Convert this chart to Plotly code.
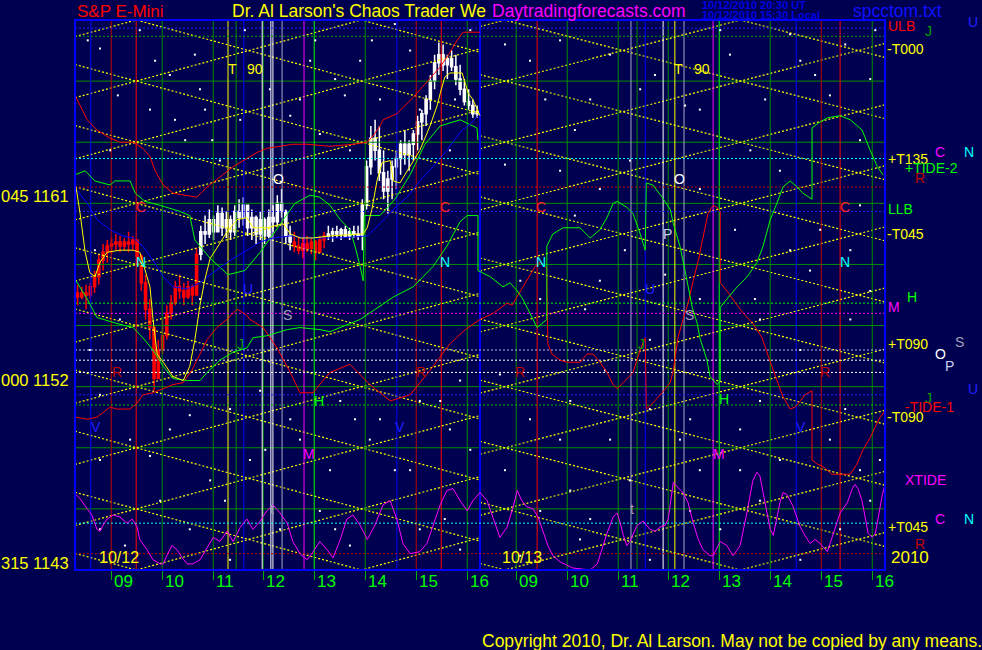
import plotly.graph_objects as go

BG = "#000050"
FONT = "Liberation Sans, Arial, sans-serif"

# ---------------- scales ----------------
# x = session hours since 08:18 on 10/12 (second session starts at 7.94)
S_RANGE = [0, 15.88]
P_RANGE = [1143, 1170]

hour_ticks = [0.71, 1.71, 2.71, 3.69, 4.69, 5.69, 6.69, 7.69,
              8.65, 9.65, 10.65, 11.63, 12.63, 13.63, 14.63, 15.63]
hour_labels = ["09", "10", "11", "12", "13", "14", "15", "16"] * 2
grid_prices = [1146, 1149, 1152, 1155, 1158, 1161, 1164, 1167]
price_labels = [(1161, "045 1161"), (1152, "000 1152"), (1143, "315 1143")]

# ---------------- 5-minute price bars (10/12) ----------------
bar_start = 0.05
bar_minutes = 5
bar_high = [1157.0, 1156.9, 1157.0, 1157.1, 1157.7, 1158.5, 1159.0, 1159.2, 1159.3, 1159.5,
            1159.4, 1159.3, 1159.6, 1159.4, 1159.2, 1158.5, 1157.5, 1156.3, 1154.8, 1154.3,
            1155.3, 1156.0, 1156.5, 1157.2, 1157.5, 1157.1, 1157.2, 1157.0, 1158.8, 1159.9,
            1160.4, 1160.7, 1160.4, 1160.9, 1160.8, 1160.6, 1160.4, 1160.9, 1161.2, 1161.3,
            1160.9, 1160.7, 1160.4, 1160.6, 1160.3, 1160.7, 1160.9, 1161.4, 1161.7, 1160.7,
            1159.9, 1159.6, 1159.4, 1159.3, 1159.4, 1159.3, 1159.2, 1159.4, 1159.6, 1159.9,
            1159.8, 1159.9, 1159.8, 1159.9, 1159.8, 1159.9, 1159.9, 1161.2, 1163.1, 1164.8,
            1165.1, 1164.8, 1163.6, 1162.6, 1163.1, 1163.6, 1164.1, 1164.6, 1164.1, 1164.6,
            1165.3, 1165.6, 1166.3, 1167.3, 1168.3, 1168.9, 1168.8, 1168.3, 1168.5, 1168.3,
            1167.8, 1167.1, 1166.6, 1166.1, 1165.8]
bar_low = [1156.0, 1156.3, 1155.8, 1156.3, 1156.6, 1157.0, 1157.7, 1158.1, 1158.5, 1158.7,
           1158.6, 1158.7, 1158.6, 1158.7, 1158.0, 1156.7, 1155.3, 1154.3, 1151.8, 1152.6,
           1153.6, 1154.3, 1155.3, 1156.0, 1156.3, 1156.0, 1156.3, 1156.0, 1156.7, 1158.2,
           1159.0, 1159.3, 1159.2, 1159.7, 1159.4, 1159.3, 1159.2, 1159.4, 1159.8, 1159.9,
           1159.4, 1159.2, 1159.0, 1159.2, 1159.0, 1159.3, 1159.6, 1159.9, 1160.3, 1159.0,
           1158.7, 1158.6, 1158.5, 1158.3, 1158.6, 1158.5, 1158.2, 1158.6, 1158.8, 1159.2,
           1159.1, 1159.3, 1159.2, 1159.3, 1159.2, 1159.3, 1159.2, 1158.7, 1160.7, 1162.4,
           1163.1, 1162.1, 1161.2, 1160.5, 1161.2, 1161.7, 1162.4, 1162.9, 1162.6, 1163.1,
           1163.6, 1164.1, 1164.8, 1165.6, 1166.6, 1167.3, 1167.5, 1167.1, 1167.5, 1166.8,
           1166.3, 1165.8, 1165.6, 1165.2, 1165.2]
bar_close = [1156.4, 1156.6, 1156.5, 1156.9, 1157.4, 1158.2, 1158.6, 1158.9, 1159.0, 1159.1,
             1158.9, 1159.1, 1159.0, 1159.2, 1158.4, 1157.1, 1155.8, 1154.9, 1152.4, 1153.8,
             1154.5, 1155.6, 1156.1, 1156.9, 1156.7, 1156.4, 1156.9, 1156.5, 1158.5, 1159.6,
             1159.5, 1160.2, 1159.6, 1160.5, 1159.8, 1160.2, 1159.6, 1160.6, 1160.3, 1160.9,
             1159.8, 1160.3, 1159.5, 1160.2, 1159.4, 1160.3, 1160.1, 1161.0, 1160.6, 1159.4,
             1159.1, 1158.9, 1158.7, 1159.0, 1158.8, 1159.1, 1158.6, 1159.2, 1159.4, 1159.5,
             1159.6, 1159.5, 1159.7, 1159.4, 1159.6, 1159.5, 1159.4, 1160.9, 1162.8, 1164.2,
             1163.6, 1162.5, 1161.6, 1162.2, 1162.8, 1163.2, 1163.9, 1163.4, 1163.9, 1164.4,
             1165.0, 1165.4, 1166.1, 1167.0, 1167.9, 1168.3, 1167.8, 1168.1, 1167.7, 1167.1,
             1166.6, 1166.0, 1165.8, 1165.4, 1165.5]
first_open = 1156.6
red_bar_ranges = [(0, 28), (51, 58)]

# ---------------- indicator curves ----------------
ma_s = [0.02, 0.10, 0.20, 0.29, 0.39, 0.49, 0.63, 0.88, 1.14, 1.27, 1.33, 1.47, 1.53, 1.61, 1.73, 1.92,
        2.12, 2.25, 2.35, 2.45, 2.55, 2.65, 2.78, 2.98, 3.18, 3.37, 3.49, 3.76, 4.08, 4.22, 4.41, 4.67,
        5.00, 5.65, 5.73, 5.82, 5.92, 6.02, 6.18, 6.24, 6.37, 6.51, 6.63, 6.76, 6.96, 7.10, 7.16, 7.25,
        7.35, 7.49, 7.59, 7.65, 7.71, 7.80, 7.88, 7.94]
ma_p = [1161.8, 1160.5, 1158.6, 1157.6, 1157.4, 1158.1, 1158.6, 1158.7, 1158.7, 1158.6, 1158.1, 1156.9,
        1155.3, 1153.6, 1153.2, 1152.5, 1152.3, 1153.0, 1154.3, 1156.0, 1157.3, 1158.3, 1158.8, 1159.6,
        1160.2, 1160.3, 1159.8, 1159.8, 1160.0, 1159.5, 1159.3, 1159.3, 1159.4, 1159.5, 1159.8, 1160.7,
        1162.1, 1163.0, 1163.1, 1162.1, 1162.0, 1162.6, 1163.1, 1163.6, 1164.8, 1165.8, 1166.4, 1167.2,
        1167.4, 1167.4, 1167.4, 1166.9, 1166.4, 1166.1, 1165.6, 1165.3]

blue_s = [0.02, 0.24, 0.43, 0.69, 0.94, 1.14, 1.33, 1.53, 1.73, 1.92, 2.20, 2.45, 2.71, 3.04, 3.37,
          3.63, 3.88, 4.22, 4.55, 5.20, 5.73, 5.98, 6.24, 6.51, 6.76, 7.02, 7.29, 7.55, 7.75, 7.90]
blue_p = [1161.7, 1161.0, 1160.2, 1159.7, 1159.4, 1159.3, 1158.9, 1158.2, 1157.4, 1156.9, 1156.8,
          1157.1, 1157.6, 1158.2, 1158.7, 1159.1, 1159.3, 1159.4, 1159.3, 1159.3, 1159.4, 1160.0,
          1160.7, 1161.3, 1162.1, 1162.8, 1163.6, 1164.5, 1164.9, 1165.3]

ulb_s = [0.0, 0.10, 0.24, 0.43, 0.69, 0.88, 1.14, 1.33, 1.47, 1.57, 1.73, 1.92, 2.20, 2.39, 2.59, 2.84,
         3.10, 3.37, 3.57, 3.76, 4.02, 4.27, 4.55, 5.00, 5.45, 5.73, 5.84, 5.98, 6.04, 6.31, 6.63, 6.96,
         7.16, 7.35, 7.49, 7.61, 7.75, 7.94]
ulb_p = [1166.3, 1165.8, 1165.1, 1164.6, 1164.2, 1164.0, 1164.0, 1163.7, 1163.3, 1162.6, 1161.9,
         1161.5, 1161.4, 1161.3, 1161.8, 1162.3, 1162.8, 1163.2, 1163.5, 1163.7, 1163.8, 1163.9,
         1163.9, 1163.8, 1163.9, 1164.0, 1164.3, 1164.8, 1165.1, 1165.4, 1166.2, 1167.1, 1167.7,
         1168.4, 1169.0, 1169.4, 1169.4, 1169.4]

green_up_s = [0.0, 0.20, 0.39, 0.69, 0.78, 1.08, 1.18, 1.37, 1.67, 2.06, 2.25, 2.35, 2.65, 3.00, 3.33,
              3.63, 3.92, 4.12, 4.31, 4.61, 4.80, 5.00, 5.20, 5.39, 5.49, 5.59, 5.65, 5.67, 5.98, 6.27,
              6.57, 6.86, 7.16, 7.55, 7.88, 7.90]
green_up_p = [1162.4, 1162.6, 1162.1, 1161.9, 1162.1, 1162.1, 1161.5, 1161.1, 1160.9, 1160.6, 1160.4,
              1159.2, 1158.3, 1157.5, 1157.7, 1158.6, 1159.6, 1160.3, 1161.0, 1161.4, 1161.3, 1160.9,
              1160.2, 1159.7, 1158.9, 1157.9, 1157.2, 1160.4, 1160.4, 1161.2, 1162.4, 1163.9, 1164.8,
              1165.1, 1164.7, 1164.1]

tide2_s = [0.02, 0.24, 0.43, 0.82, 1.14, 1.33, 1.53, 1.73, 1.92, 2.20, 2.45, 2.59, 2.84, 3.10, 3.37,
           3.49, 3.76, 4.16, 4.41, 4.80, 5.00, 5.59, 6.24, 6.63, 7.02, 7.29, 7.55, 7.69, 7.90,
           7.90, 8.14, 8.39, 8.53, 8.67, 8.78, 8.92, 9.06, 9.25, 9.25, 9.37, 9.57, 9.90, 10.10, 10.29,
           10.43, 10.55, 10.63, 10.82, 10.94, 11.08, 11.18, 11.20, 11.33, 11.51, 11.67, 11.73, 11.86,
           11.96, 12.02, 12.10, 12.20, 12.25, 12.39, 12.45, 12.59, 12.65, 12.65, 12.78, 12.98, 13.18,
           13.37, 13.49, 13.63, 13.76, 13.88, 14.02, 14.16, 14.27, 14.45, 14.45, 14.55, 14.75, 15.00,
           15.20, 15.43, 15.59, 15.73, 15.84]
tide2_p = [1157.2, 1156.3, 1155.4, 1155.1, 1154.9, 1154.4, 1153.8, 1153.0, 1152.4, 1152.3, 1152.3,
           1152.7, 1153.3, 1153.7, 1153.9, 1154.4, 1154.5, 1154.8, 1154.9, 1154.8, 1154.7, 1155.3,
           1156.4, 1156.9, 1157.9, 1158.9, 1160.1, 1160.4, 1160.4,
           1157.7, 1157.4, 1156.9, 1157.1, 1156.7, 1156.3, 1155.6, 1154.9, 1155.3, 1158.9, 1159.5,
           1159.8, 1159.8, 1159.3, 1159.7, 1160.3, 1161.0, 1161.1, 1160.8, 1160.5, 1159.5, 1158.7,
           1162.0, 1161.9, 1161.3, 1160.7, 1160.0, 1158.9, 1157.7, 1156.9, 1155.9, 1155.1, 1154.4,
           1153.3, 1152.5, 1152.1, 1152.3, 1155.9, 1156.3, 1156.9, 1157.4, 1158.1, 1158.9, 1160.2,
           1161.0, 1161.8, 1162.1, 1161.8, 1161.5, 1161.2, 1164.7, 1164.9, 1165.2, 1165.3, 1165.1,
           1164.6, 1163.6, 1162.8, 1162.4]

tide1_s = [0.02, 0.24, 0.43, 0.69, 0.82, 1.08, 1.22, 1.33, 1.53, 1.73, 1.92, 2.12, 2.29, 2.45, 2.59,
           2.78, 2.98, 3.18, 3.37, 3.43, 3.69, 3.96, 4.22, 4.41, 4.67, 4.86, 5.00, 5.39, 5.78, 6.18,
           6.57, 6.96, 7.35, 7.65, 7.94, 8.20, 8.47, 8.57, 8.78, 9.02, 9.12, 9.25, 9.27, 9.35, 9.51,
           9.65, 9.90, 10.04, 10.16, 10.29, 10.43, 10.55, 10.63, 10.75, 10.94, 11.08, 11.18, 11.20,
           11.33, 11.51, 11.67, 11.73, 11.82, 11.92, 12.02, 12.12, 12.22, 12.31, 12.41, 12.51, 12.59,
           12.65, 12.65, 12.78, 12.90, 13.10, 13.29, 13.47, 13.59, 13.69, 13.76, 13.88, 14.02, 14.12,
           14.22, 14.31, 14.45, 14.45, 14.55, 14.65, 14.84, 15.20, 15.33, 15.45, 15.59, 15.69, 15.78,
           15.88]
tide1_p = [1150.5, 1150.4, 1150.5, 1151.0, 1150.9, 1150.9, 1151.2, 1151.6, 1151.7, 1151.9, 1152.1,
           1152.2, 1152.8, 1153.6, 1154.3, 1154.9, 1155.3, 1155.8, 1155.5, 1155.3, 1154.9, 1153.9,
           1152.7, 1151.7, 1151.7, 1152.3, 1152.7, 1153.1, 1152.1, 1151.3, 1151.6, 1152.8, 1154.1,
           1154.8, 1155.3, 1155.6, 1156.1, 1156.0, 1156.9, 1157.9, 1158.1, 1157.8, 1154.1, 1153.6,
           1153.3, 1153.2, 1153.2, 1153.6, 1153.6, 1153.2, 1152.7, 1152.1, 1151.9, 1152.2, 1152.7,
           1153.8, 1154.4, 1150.9, 1151.2, 1151.7, 1152.2, 1152.8, 1154.4, 1155.3, 1156.1, 1157.2,
           1158.2, 1159.3, 1160.5, 1160.9, 1160.8, 1160.6, 1157.1, 1156.7, 1156.3, 1155.6, 1155.1,
           1154.4, 1153.5, 1152.8, 1152.3, 1151.5, 1150.9, 1151.0, 1151.3, 1151.6, 1151.8, 1148.4,
           1148.2, 1148.1, 1147.7, 1147.7, 1148.2, 1148.9, 1149.5, 1150.0, 1150.5, 1150.8]

xtide_s = [0.02, 0.10, 0.24, 0.33, 0.43, 0.49, 0.55, 0.63, 0.75, 0.88, 1.02, 1.12, 1.22, 1.27, 1.41,
           1.53, 1.67, 1.73, 1.80, 1.90, 2.00, 2.10, 2.20, 2.31, 2.45, 2.59, 2.71, 2.84, 2.98, 3.10,
           3.24, 3.37, 3.49, 3.63, 3.76, 3.88, 4.02, 4.16, 4.27, 4.41, 4.55, 4.67, 4.80, 4.94, 5.06,
           5.20, 5.33, 5.45, 5.59, 5.73, 5.88, 6.04, 6.18, 6.31, 6.43, 6.57, 6.76, 6.90, 7.02, 7.16,
           7.29, 7.41, 7.55, 7.69, 7.80, 7.94, 8.08, 8.20, 8.33, 8.47, 8.59, 8.67, 8.76, 8.86, 8.98,
           9.08, 9.18, 9.27, 9.37, 9.51, 9.76, 10.10, 10.24, 10.35, 10.43, 10.55, 10.63, 10.69, 10.75,
           10.82, 10.88, 11.02, 11.14, 11.27, 11.37, 11.47, 11.57, 11.63, 11.71, 11.73, 11.80, 11.92,
           12.02, 12.12, 12.22, 12.31, 12.45, 12.51, 12.65, 12.78, 12.90, 13.04, 13.18, 13.29, 13.37,
           13.43, 13.49, 13.57, 13.63, 13.69, 13.76, 13.82, 13.88, 13.96, 14.08, 14.22, 14.31, 14.41,
           14.51, 14.61, 14.75, 14.86, 15.00, 15.14, 15.24, 15.29, 15.35, 15.43, 15.49, 15.55, 15.63,
           15.69, 15.75, 15.82, 15.88]
xtide_p = [1146.7, 1146.5, 1146.0, 1145.7, 1145.0, 1144.9, 1145.2, 1145.5, 1145.7, 1145.6, 1145.3,
           1145.5, 1145.1, 1144.5, 1144.0, 1143.5, 1143.3, 1143.3, 1143.7, 1144.2, 1144.0, 1143.6,
           1143.3, 1143.3, 1143.5, 1144.1, 1144.6, 1144.4, 1144.9, 1144.4, 1145.1, 1145.5, 1145.0,
           1145.4, 1145.9, 1146.2, 1145.8, 1145.3, 1144.4, 1143.8, 1143.5, 1143.9, 1144.4, 1144.0,
           1143.6, 1144.5, 1145.5, 1145.7, 1145.2, 1144.5, 1145.2, 1146.2, 1146.4, 1145.5, 1144.3,
           1143.8, 1143.9, 1144.3, 1145.2, 1146.2, 1146.9, 1147.0, 1146.4, 1145.9, 1146.4, 1146.8,
           1146.4, 1145.5, 1144.6, 1145.1, 1146.1, 1146.9, 1146.4, 1146.1, 1146.0, 1145.6, 1144.8,
           1144.2, 1143.7, 1143.4, 1143.1, 1143.0, 1143.3, 1144.2, 1144.8, 1145.6, 1145.8, 1145.3,
           1144.7, 1144.2, 1144.4, 1145.2, 1145.4, 1145.0, 1144.9, 1145.1, 1145.2, 1145.5, 1147.1,
           1147.3, 1147.1, 1146.8, 1146.3, 1145.3, 1144.5, 1144.0, 1143.7, 1143.7, 1144.4, 1144.2,
           1143.7, 1144.2, 1145.9, 1147.4, 1147.8, 1147.6, 1146.8, 1145.8, 1145.0, 1144.7, 1145.5,
           1146.3, 1146.8, 1146.7, 1146.1, 1145.1, 1144.7, 1144.3, 1144.5, 1144.3, 1143.9, 1144.7,
           1145.8, 1146.3, 1147.0, 1147.2, 1147.0, 1146.4, 1145.6, 1144.8, 1144.6, 1144.8, 1145.6,
           1146.6, 1147.2]

# ---------------- yellow lattice (parallel time/price lines crossing on the grid) ----------------
# (session start, session end, s where the lines cross the grid levels, slope in points per hour)
lattice_sets = [(0.0, 7.94, 1.20, 0.68), (7.94, 15.88, 8.43, 0.65)]
lattice_levels = [1137, 1140, 1143, 1146, 1149, 1152, 1155, 1158, 1161, 1164, 1167, 1170, 1173, 1176]

# ---------------- white dots of the original ----------------
dots_s = [0.49, 1.27, 1.86, 2.35, 4.41, 4.80, 1.96, 2.69, 2.84, 5.29, 5.59, 6.27, 8.92, 9.51, 10.10,
          11.08, 12.25, 12.65, 14.22, 14.80, 15.39, 15.59, 9.51, 10.29, 10.88, 12.25, 13.24, 13.82,
          14.61, 15.20, 9.12, 10.29, 11.27, 12.25, 13.43, 14.22, 15.20, 8.92, 9.71, 10.49, 11.27,
          12.06, 13.04, 13.82, 14.80, 15.39, 9.12, 10.10, 10.88, 12.25, 13.43, 15.00, 0.49, 1.08,
          1.86, 2.65, 3.43, 4.22, 5.00, 5.78, 6.57, 7.35, 0.29, 0.88, 2.45, 3.04, 3.63, 4.41, 5.20,
          5.98, 6.76, 7.55, 0.69, 1.47, 2.45, 3.24, 3.82, 4.61, 5.39, 5.98, 6.57, 7.35, 7.75, 0.49,
          1.67, 3.04, 4.02, 5.39, 6.76, 7.55, 8.73, 9.90, 11.27, 12.65, 14.22, 15.59,
          0.25, 0.84, 1.57, 2.16, 2.55, 3.33, 4.22, 4.71, 5.10, 5.82, 6.76, 7.45, 8.43, 9.22, 9.80,
          10.49, 11.37, 11.96, 12.84, 13.53, 14.02, 14.51, 15.10, 15.69, 8.43, 9.80, 10.78, 12.94,
          14.02, 15.39, 8.73, 10.00, 11.57, 13.33, 14.41, 15.59, 8.33, 9.51, 10.39, 11.86, 13.43,
          15.10, 8.43, 9.71, 12.06, 13.04, 15.78, 0.39, 0.49, 1.47, 2.25, 2.94, 3.73, 4.80, 5.49,
          6.27, 7.16, 7.75, 0.98, 2.25, 5.10, 7.25]
dots_p = [1168.6, 1169.5, 1167.3, 1168.3, 1166.1, 1164.4, 1165.1, 1164.1, 1163.1, 1166.3, 1168.0,
          1169.8, 1168.0, 1169.0, 1166.1, 1166.6, 1165.6, 1169.5, 1168.0, 1166.3, 1164.1, 1167.1,
          1162.6, 1161.7, 1163.1, 1161.7, 1163.6, 1162.6, 1159.7, 1158.7, 1156.3, 1157.2, 1154.3,
          1156.3, 1155.3, 1153.8, 1155.3, 1150.4, 1151.3, 1149.4, 1150.9, 1150.4, 1149.9, 1148.4,
          1149.4, 1147.9, 1145.9, 1145.5, 1147.4, 1147.9, 1146.4, 1145.0, 1148.4, 1149.4, 1149.9,
          1147.4, 1148.4, 1150.4, 1147.9, 1149.4, 1147.9, 1149.9, 1153.8, 1155.3, 1156.3, 1150.9,
          1151.8, 1149.4, 1151.3, 1150.4, 1151.3, 1152.3, 1163.6, 1165.6, 1166.6, 1165.1, 1166.6,
          1168.0, 1163.6, 1166.1, 1168.5, 1163.6, 1169.5, 1145.0, 1146.4, 1143.5, 1145.0, 1144.2,
          1145.0, 1144.0, 1143.7, 1144.5, 1143.5, 1145.0, 1143.5, 1146.4,
          1169.0, 1166.3, 1168.0, 1164.1, 1165.6, 1169.5, 1165.3, 1169.0, 1167.1, 1169.0, 1165.6,
          1166.1, 1168.8, 1166.1, 1164.6, 1168.3, 1167.3, 1165.8, 1168.3, 1166.1, 1169.3, 1167.3,
          1168.8, 1169.5, 1162.9, 1160.4, 1158.7, 1159.7, 1158.7, 1160.9, 1157.2, 1155.8, 1157.5,
          1156.3, 1157.7, 1156.7, 1152.6, 1149.4, 1152.8, 1149.4, 1151.3, 1150.9, 1147.9, 1146.9,
          1145.9, 1147.9, 1148.4, 1158.7, 1151.6, 1148.6, 1150.6, 1146.4, 1148.9, 1145.9, 1150.4,
          1147.9, 1151.3, 1148.9, 1144.2, 1145.0, 1145.0, 1145.5]

# ---------------- time lines (vertical) ----------------
vlines = {
    "#0000ff": [0.31, 3.31, 6.31, 11.18, 14.14],
    "#c00000": [0.71, 6.69, 14.63],
    "#ff0000": [1.20, 7.18, 9.06, 15.00],
    "#008c00": [1.71, 2.71, 3.16, 3.69, 5.69, 7.69, 8.65, 9.65, 10.65, 11.02, 11.63, 13.63, 15.63],
    "#00ff00": [4.69, 12.63],
    "#ffff00": [3.00, 11.76],
    "#ffffff": [3.67, 3.84, 3.88, 11.53],
    "#a8a8c8": [4.06, 10.90, 11.94],
    "#ff00ff": [4.49, 12.51],
}
day_split = 7.94

# ---------------- price levels (horizontal dotted) ----------------
hlevels = [(1169.6, "#2020ff"), (1169.2, "#00a000"), (1163.2, "#00ffff"), (1161.8, "#c00000"),
           (1160.6, "#2020ff"), (1156.1, "#00ff00"), (1155.6, "#ff00ff"), (1153.8, "#b8b8e8"),
           (1153.3, "#ffffff"), (1152.7, "#ffffff"), (1151.6, "#2020ff"), (1151.1, "#00c000"),
           (1145.3, "#00ffff"), (1143.8, "#c00000")]

# ---------------- labels ----------------
inner_labels = [  # text, s, price, color
    ("T", 3.08, 1167.6, "#ffff00"), ("90", 3.53, 1167.6, "#ffff00"),
    ("T", 11.84, 1167.6, "#ffff00"), ("90", 12.29, 1167.6, "#ffff00"),
    ("O", 3.98, 1162.2, "#ffffff"), ("O", 11.86, 1162.2, "#ffffff"),
    ("C", 1.29, 1160.8, "#ff2020"), ("C", 7.25, 1160.8, "#ff2020"),
    ("C", 9.14, 1160.8, "#ff2020"), ("C", 15.10, 1160.8, "#ff2020"),
    ("N", 1.29, 1158.1, "#00ffff"), ("N", 7.25, 1158.1, "#00ffff"),
    ("N", 9.14, 1158.1, "#00ffff"), ("N", 15.10, 1158.1, "#00ffff"),
    ("U", 3.39, 1156.8, "#2020ff"), ("U", 11.27, 1156.8, "#2020ff"),
    ("S", 4.16, 1155.5, "#a0a0b8"), ("S", 12.04, 1155.5, "#a0a0b8"),
    ("P", 11.61, 1159.5, "#d0d0f0"),
    ("J", 3.24, 1154.1, "#00a000"), ("J", 11.10, 1154.1, "#00a000"),
    ("R", 0.82, 1152.7, "#c00000"), ("R", 6.78, 1152.7, "#c00000"),
    ("R", 8.73, 1152.7, "#c00000"), ("R", 14.71, 1152.7, "#c00000"),
    ("H", 4.78, 1151.3, "#00ff00"), ("H", 12.73, 1151.4, "#00ff00"),
    ("V", 0.41, 1150.0, "#2020ff"), ("V", 6.37, 1150.0, "#2020ff"), ("V", 14.24, 1150.0, "#2020ff"),
    ("M", 4.59, 1148.7, "#ff00ff"), ("M", 12.63, 1148.7, "#ff00ff"),
    ("t", 3.86, 1146.0, "#a0a0b8"), ("t", 10.92, 1146.0, "#a0a0b8"),
]
# right-hand legend: text, left edge (fraction of plot width), price (middle), color, size
side_labels = [
    ("ULB", 1.001, 1169.7, "#ff0000", 14), ("J", 1.047, 1169.45, "#00a000", 14),
    ("U", 1.100, 1169.9, "#2020ff", 14), ("-T000", 1.0, 1168.6, "#ffff00", 14),
    ("C", 1.059, 1163.5, "#ff00ff", 14), ("N", 1.095, 1163.5, "#00ffff", 14),
    ("+T135", 1.001, 1163.2, "#ffff00", 14), ("+TIDE-2", 1.022, 1162.75, "#00ff00", 14),
    ("R", 1.035, 1162.25, "#c00000", 14), ("LLB", 1.001, 1160.7, "#00ff00", 14),
    ("-T045", 1.0, 1159.5, "#ffff00", 14), ("H", 1.025, 1156.4, "#00ff00", 14),
    ("M", 1.001, 1155.9, "#ff00ff", 14), ("+T090", 1.001, 1154.1, "#ffff00", 14),
    ("S", 1.084, 1154.2, "#a0a0b8", 14), ("O", 1.059, 1153.6, "#ffffff", 14),
    ("P", 1.072, 1153.0, "#d0d0f0", 14), ("U", 1.100, 1151.9, "#2020ff", 14),
    ("J", 1.047, 1151.45, "#00a000", 14), ("-TIDE-1", 1.022, 1151.0, "#ff0000", 14),
    ("-T090", 1.0, 1150.5, "#ffff00", 14), ("XTIDE", 1.022, 1147.4, "#ff00ff", 14),
    ("C", 1.059, 1145.5, "#ff00ff", 14), ("N", 1.095, 1145.5, "#00ffff", 14),
    ("+T045", 1.001, 1145.1, "#ffff00", 14), ("R", 1.035, 1144.3, "#c00000", 14),
    ("2010", 1.005, 1143.6, "#ffff00", 17),
]
date_labels = [("10/12", 0.43), ("10/13", 8.33)]

fig = go.Figure()

# horizontal grid
gx, gy = [], []
for p in grid_prices:
    gx += [S_RANGE[0], S_RANGE[1], None]
    gy += [p, p, None]
fig.add_trace(go.Scatter(x=gx, y=gy, mode="lines", line=dict(color="#009000", width=1), hoverinfo="skip"))

# yellow lattice
lx, ly = [], []
for s0, s1, a, m in lattice_sets:
    for g in lattice_levels:
        for sign in (1, -1):
            lx += [s0, s1, None]
            ly += [g + sign * m * (s0 - a), g + sign * m * (s1 - a), None]
fig.add_trace(go.Scatter(x=lx, y=ly, mode="lines", line=dict(color="#ffff00", width=1.2, dash="2px,2px"),
                         hoverinfo="skip"))

# vertical time lines
for col, xs in vlines.items():
    vx, vy = [], []
    for s in xs:
        vx += [s, s, None]
        vy += [P_RANGE[0], P_RANGE[1], None]
    fig.add_trace(go.Scatter(x=vx, y=vy, mode="lines", line=dict(color=col, width=1), hoverinfo="skip"))
fig.add_trace(go.Scatter(x=[day_split, day_split], y=P_RANGE, mode="lines",
                         line=dict(color="#0000ff", width=2), hoverinfo="skip"))

# horizontal dotted levels
for p, col in hlevels:
    fig.add_trace(go.Scatter(x=S_RANGE, y=[p, p], mode="lines",
                             line=dict(color=col, width=1, dash="2px,2px"), hoverinfo="skip"))

# white dots
fig.add_trace(go.Scatter(x=dots_s, y=dots_p, mode="markers",
                         marker=dict(color="#ffffff", size=2, symbol="square"), hoverinfo="skip"))

# curves
fig.add_trace(go.Scatter(x=xtide_s, y=xtide_p, mode="lines", line=dict(color="#ff00ff", width=1)))
fig.add_trace(go.Scatter(x=tide1_s, y=tide1_p, mode="lines", line=dict(color="#ff0000", width=1)))
fig.add_trace(go.Scatter(x=tide2_s, y=tide2_p, mode="lines", line=dict(color="#00ff00", width=1)))
fig.add_trace(go.Scatter(x=green_up_s, y=green_up_p, mode="lines", line=dict(color="#00ff00", width=1)))
fig.add_trace(go.Scatter(x=ulb_s, y=ulb_p, mode="lines", line=dict(color="#ff0000", width=1)))
fig.add_trace(go.Scatter(x=blue_s, y=blue_p, mode="lines", line=dict(color="#0000ff", width=1)))

# price bars
n = len(bar_close)
bar_s = [bar_start + i * bar_minutes / 60 for i in range(n)]
bar_open = [first_open] + bar_close[:-1]
is_red = [any(a <= i <= b for a, b in red_bar_ranges) for i in range(n)]
for flag, col in [(False, "#ffffff"), (True, "#ff0000")]:
    idx = [i for i in range(n) if is_red[i] == flag]
    fig.add_trace(go.Candlestick(
        x=[bar_s[i] for i in idx], open=[bar_open[i] for i in idx], high=[bar_high[i] for i in idx],
        low=[bar_low[i] for i in idx], close=[bar_close[i] for i in idx],
        increasing=dict(line=dict(color=col, width=1.5), fillcolor=col),
        decreasing=dict(line=dict(color=col, width=1.5), fillcolor=col),
        whiskerwidth=0, hoverinfo="skip"))

fig.add_trace(go.Scatter(x=ma_s, y=ma_p, mode="lines", line=dict(color="#ffff00", width=1)))

ann = []
for t, s, p, c in inner_labels:
    ann.append(dict(x=s, y=p, xref="x", yref="y", text=t, showarrow=False,
                    font=dict(family=FONT, size=14, color=c)))
for t, xp, p, c, sz in side_labels:
    ann.append(dict(x=xp, y=p, xref="paper", yref="y", text=t, showarrow=False, xanchor="left",
                    yanchor="middle", font=dict(family=FONT, size=sz, color=c)))
for t, s in date_labels:
    ann.append(dict(x=s, y=1143.6, xref="x", yref="y", text=t, showarrow=False, xanchor="left",
                    yanchor="middle", font=dict(family=FONT, size=16, color="#ffff00")))
for s, t in zip(hour_ticks, hour_labels):
    ann.append(dict(x=s, y=-0.02, xref="x", yref="paper", text=t, showarrow=False, xanchor="left",
                    yanchor="middle", xshift=1, font=dict(family=FONT, size=17, color="#00ff00")))
for p, t in price_labels:
    ann.append(dict(x=-0.005, y=p, xref="paper", yref="y", text=t, showarrow=False, xanchor="right",
                    yanchor="bottom", yshift=-4, font=dict(family=FONT, size=16.5, color="#ffff00")))

top = [("S&P E-Mini", 0.0, "#ff0000", 17), ("Dr. Al Larson's Chaos Trader We", 0.191, "#ffff00", 17.5),
       ("Daytradingforecasts.com", 0.512, "#ff00ff", 17.5), ("spcctom.txt", 0.958, "#1010ff", 17.5)]
for t, x, c, sz in top:
    ann.append(dict(x=x, y=1.0155, xref="paper", yref="paper", text=t, showarrow=False, xanchor="left",
                    yanchor="middle", font=dict(family=FONT, size=sz, color=c)))
ann.append(dict(x=0.772, y=1.0265, xref="paper", yref="paper", text="<b>10/12/2010 20:30 UT</b>",
                showarrow=False, xanchor="left", yanchor="middle", font=dict(family=FONT, size=11, color="#0000e0")))
ann.append(dict(x=0.772, y=1.0085, xref="paper", yref="paper", text="<b>10/12/2010 15:30 Local</b>",
                showarrow=False, xanchor="left", yanchor="middle", font=dict(family=FONT, size=11, color="#0000e0")))
ann.append(dict(x=0.5, y=-0.129, xref="paper", yref="paper",
                text="Copyright 2010, Dr. Al Larson. May not be copied by any means.",
                showarrow=False, xanchor="left", yanchor="middle", font=dict(family=FONT, size=17.5, color="#ffff00")))

fig.update_layout(
    width=982, height=650, margin=dict(l=75, r=97, t=20, b=80),
    paper_bgcolor=BG, plot_bgcolor=BG, showlegend=False, annotations=ann,
    xaxis=dict(range=S_RANGE, showgrid=False, zeroline=False, showline=False,
               tickvals=hour_ticks, ticks="outside", ticklen=9, tickcolor="#00b000",
               showticklabels=False, rangeslider=dict(visible=False), fixedrange=True),
    yaxis=dict(range=P_RANGE, showgrid=False, zeroline=False, showline=False,
               showticklabels=False, ticks="", fixedrange=True),
    shapes=[dict(type="rect", xref="paper", yref="paper", x0=0, x1=1, y0=0, y1=1,
                 line=dict(color="#0000ff", width=2))],
)

fig.write_html("out.html", config={"displayModeBar": False},
               post_script="document.body.style.margin='0px';")
